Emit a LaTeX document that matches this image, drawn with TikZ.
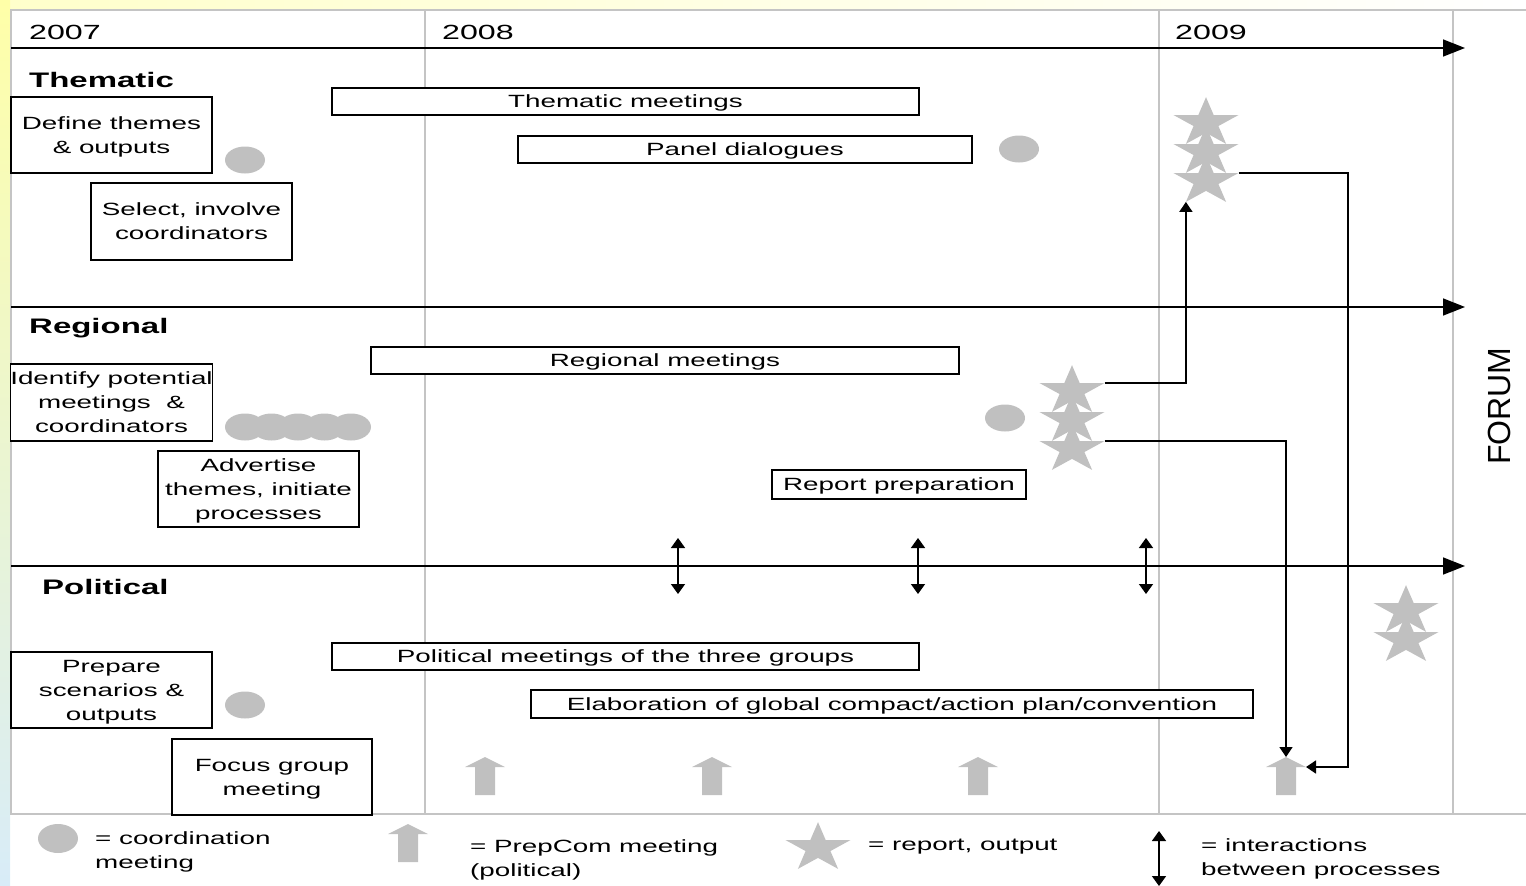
\documentclass[tikz,border=0pt]{standalone}
\usepackage{fontspec}
\setmainfont{Liberation Sans}[FakeStretch=1.57]
\newfontfamily\forumfont{Liberation Sans}
\usetikzlibrary{arrows.meta,positioning,shapes.geometric}
\definecolor{markgray}{HTML}{C0C0C0}
\definecolor{gridgray}{HTML}{C4C4C4}
\definecolor{slideyellow}{HTML}{FFFFA8}
\definecolor{slideblue}{HTML}{D8ECF8}
\def\figboxwidth{201}
\def\figboxheight{76}
\def\figbarheight{27}
\def\figboxfont{\fontsize{17.7}{24}\selectfont}
\def\figtitlefont{\fontsize{21}{24}\selectfont\bfseries}
\def\figyearfont{\fontsize{20.5}{22}\selectfont}

\begin{document}
\begin{tikzpicture}[
  x=1pt,y=-1pt,
  box/.style={draw,line width=1.2pt,fill=white,align=center,inner sep=0pt,text depth=0pt,minimum width=\figboxwidth,minimum height=\figboxheight,font=\figboxfont},
  bar/.style={draw,line width=1.2pt,fill=white,inner sep=0pt,text height=12.7pt,text depth=0pt,minimum height=\figbarheight,font=\figboxfont},
  title/.style={font=\figtitlefont,inner sep=0pt,anchor=west},
  year/.style={font=\figyearfont,inner sep=0pt,anchor=west},
  legend/.style={font=\figboxfont,align=left,inner sep=0pt,text depth=0pt,anchor=west},
  coord/.style={ellipse,fill=markgray,minimum width=40,minimum height=27,inner sep=0pt},
  grid/.style={draw=gridgray,line width=1.5pt},
  lane/.style={line width=1.6pt,-{Triangle[width=17pt,length=22pt]}},
  conn/.style={line width=1.6pt,-{Triangle[width=13pt,length=10pt]}},
  inter/.style={line width=1.6pt,{Triangle[width=14pt,length=10pt]}-{Triangle[width=14pt,length=10pt]}},
  repstar/.pic={
    \fill[markgray,yscale=-0.755] (90:34.2) -- (126:13.07) -- (162:34.2) -- (198:13.07) -- (234:34.2) -- (270:13.07) -- (306:34.2) -- (342:13.07) -- (18:34.2) -- (54:13.07) -- cycle;
    \coordinate (-e) at (32.5,-8);
    \coordinate (-sw) at (-20.1,20.9);
  },
  prepcom/.pic={
    \fill[markgray] (-10,0) -- (-10,-28) -- (-20,-28) -- (0,-38) -- (20,-28) -- (10,-28) -- (10,0) -- cycle;
    \coordinate (-n) at (0,-38);
    \coordinate (-e) at (20,-28);
  },
]
\useasboundingbox (0,0) rectangle (1526,886);

%%%%%%%%%%%%%%%
% Slide background
%%%%%%%%%%%%%%%
\fill[left color=slideyellow!60,right color=white] (0,0) rectangle (1526,8);
\fill[top color=slideyellow,bottom color=slideblue] (0,0) rectangle (10,886);

%%%%%%%%%%%%%%%
% Frame and years
%%%%%%%%%%%%%%%
\draw[grid] (1526,10) -- (11,10) -- (11,814) -- (1526,814);
\draw[grid] (425,10) -- (425,814);
\draw[grid] (1159,10) -- (1159,814);
\draw[grid] (1453,10) -- (1453,814);
\node (y7) [year] at (29,32) {2007};
\node (y8) [year] at (442,32) {2008};
\node (y9) [year] at (1175,32) {2009};

% Lanes
\coordinate (th0) at (11,48);  \coordinate (th1) at (1465,48);
\coordinate (rg0) at (11,307); \coordinate (rg1) at (1465,307);
\coordinate (pl0) at (11,566); \coordinate (pl1) at (1465,566);
\draw[lane] (th0) -- (th1);
\draw[lane] (rg0) -- (rg1);
\draw[lane] (pl0) -- (pl1);

%%%%%%%%%%%%%%%
% Thematic
%%%%%%%%%%%%%%%
\node (tht) [title] at (29,80) {Thematic};
\node (defthemes) [box] at (111.5,135) {Define themes\\\& outputs};
\node (selcoord) [box,minimum height=77] at (191.5,221.5) {Select, involve\\coordinators};
\node (thmeet) [bar,minimum width=587] at (625.5,101.5) {Thematic meetings};
\node (panel) [bar,minimum width=454] at (745,149.5) {Panel dialogues};
\node (tc1) [coord] at (245,160) {};
\node (tc2) [coord] at (1019,149) {};
\pic (ts1) at (1206,123) {repstar};
\pic (ts2) at (1206,152) {repstar};
\pic (ts3) at (1206,181) {repstar};

%%%%%%%%%%%%%%%
% Regional
%%%%%%%%%%%%%%%
\node (rgt) [title] at (29,328) {Regional};
\node (identify) [box,minimum height=77] at (111.5,402.5) {Identify potential\\meetings~~\&\\coordinators};
\node (advertise) [box] at (258.5,489) {Advertise\\themes, initiate\\processes};
\node (regmeet) [bar,minimum width=588] at (665,360.5) {Regional meetings};
\node (report) [bar,minimum width=254,minimum height=29] at (899,484.5) {Report preparation};
\foreach \i/\x in {1/245,2/271.5,3/298,4/324.5,5/351}
  \node (rc\i) [coord] at (\x,427) {};
\node (rc6) [coord] at (1005,418) {};
\pic (rs1) at (1072,391) {repstar};
\pic (rs2) at (1072,420) {repstar};
\pic (rs3) at (1072,449) {repstar};

%%%%%%%%%%%%%%%
% Political
%%%%%%%%%%%%%%%
\node (plt) [title] at (42,587) {Political};
\node (prepare) [box] at (111.5,690) {Prepare\\scenarios \&\\outputs};
\node (focus) [box,minimum width=200] at (272,777) {Focus group\\meeting};
\node (polmeet) [bar,minimum width=587] at (625.5,656.5) {Political meetings of the three groups};
\node (elab) [bar,minimum width=722,minimum height=28] at (892,704) {Elaboration of global compact/action plan/convention};
\node (pc0) [coord] at (245,705) {};
\pic (pc1) at (485,795) {prepcom};
\pic (pc2) at (712,795) {prepcom};
\pic (pc3) at (978,795) {prepcom};
\pic (pc4) at (1286,795) {prepcom};
\pic (ps1) at (1406,611) {repstar};
\pic (ps2) at (1406,640) {repstar};

% Interactions between lanes
\foreach \n/\x in {1/678,2/918,3/1146} {
  \coordinate (ia\n) at (\x,538);
  \coordinate (ib\n) at (\x,594);
  \draw[inter] (ia\n) -- (ib\n);
}

% Reports feeding up and down
\draw[conn] (rs1-e) -| (ts3-sw);
\draw[conn] (rs3-e) -| (pc4-n);
\draw[conn] (ts3-e) -| ([xshift=42pt]pc4-e) -- (pc4-e);

\node (forum) [font=\forumfont\fontsize{32}{32}\selectfont,inner sep=0pt,rotate=90] at (1499,406) {FORUM};

%%%%%%%%%%%%%%%
% Legend
%%%%%%%%%%%%%%%
\node (lgcoord) [coord,minimum height=29] at (58,838.5) {};
\node (lgcoordtxt) [legend] at (95,850) {= coordination\\meeting};
\pic (lgprep) at (408,862) {prepcom};
\node (lgpreptxt) [legend] at (470,858) {= PrepCom meeting\\(political)};
\pic (lgstar) at (818,848) {repstar};
\node (lgstartxt) [legend] at (868,845) {= report, output};
\coordinate (lgia) at (1159,831);
\coordinate (lgib) at (1159,886);
\draw[inter] (lgia) -- (lgib);
\node (lgintertxt) [legend] at (1201,857) {= interactions\\between processes};

\end{tikzpicture}
\end{document}
